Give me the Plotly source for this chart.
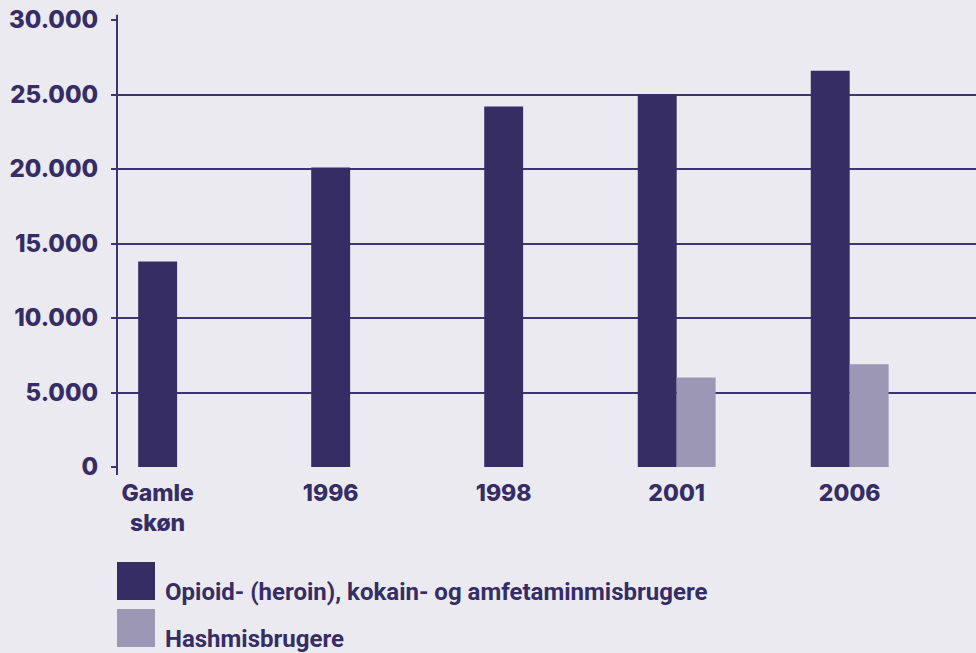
import plotly.graph_objects as go

categories = ["Gamle skøn", "1996", "1998", "2001", "2006"]
tick_labels = ["Gamle<br>skøn", "1996", "1998", "2001", "2006"]
opioid_values = [13800, 20100, 24200, 25000, 26600]
hash_values = [None, None, None, 6000, 6900]
series_names = ["Opioid- (heroin), kokain- og amfetaminmisbrugere", "Hashmisbrugere"]
y_ticks = [0, 5000, 10000, 15000, 20000, 25000, 30000]
y_tick_labels = ["0", "5.000", "10.000", "15.000", "20.000", "25.000", "30.000"]

BG = "#EBEAF1"
DARK = "#352D64"
LIGHT = "#9B97B4"
TEXT = "#352D64"
W = 0.225

dark_offsets = [-W / 2 if h is None else -W for h in hash_values]

fig = go.Figure()
fig.add_trace(go.Bar(x=categories, y=opioid_values, name=series_names[0],
                     marker=dict(color=DARK, line=dict(width=0)),
                     width=W, offset=dark_offsets))
fig.add_trace(go.Bar(x=categories, y=hash_values, name=series_names[1],
                     marker=dict(color=LIGHT, line=dict(width=0)),
                     width=W, offset=0))

fig.update_layout(
    width=976, height=653,
    paper_bgcolor=BG, plot_bgcolor=BG,
    margin=dict(l=117, r=0, t=20, b=186),
    barmode="overlay",
    showlegend=False,
    font=dict(family="Inter, Roboto, sans-serif", color=TEXT),
    xaxis=dict(
        type="category", range=[-0.235, 4.73],
        tickmode="array", tickvals=categories, ticktext=tick_labels,
        showgrid=False, zeroline=False, showline=False, ticks="",
        tickfont=dict(size=23, weight=800, color=TEXT, family="Inter, sans-serif"),
        ticklabelstandoff=10,
    ),
    yaxis=dict(
        range=[0, 30000], tickmode="array", tickvals=y_ticks, ticktext=y_tick_labels,
        showgrid=True, gridcolor="#3D3470", gridwidth=2,
        zeroline=False, showline=False,
        ticks="outside", ticklen=5, tickcolor="#3D3470", tickwidth=2,
        tickfont=dict(size=24, weight=800, color=TEXT, family="Inter, sans-serif"),
        ticklabelstandoff=8,
    ),
)

fig.add_shape(type="line", xref="paper", yref="paper", x0=0, x1=0, y0=-0.018, y1=1.012,
              line=dict(color="#3D3470", width=2))

legend_colors = [DARK, LIGHT]
for i, (nm, col) in enumerate(zip(series_names, legend_colors)):
    top = 562 + i * 47
    fig.add_shape(type="rect", xref="paper", yref="paper",
                  x0=0, x1=38 / 859,
                  y0=(467 - top - 38) / 447, y1=(467 - top) / 447,
                  fillcolor=col, line=dict(width=0))
    fig.add_annotation(xref="paper", yref="paper", x=46 / 859, y=(467 - top - 30) / 447,
                       text=nm, showarrow=False, xanchor="left", yanchor="middle",
                       font=dict(size=24, weight="bold", color=TEXT, family="Roboto, sans-serif"))

fig.write_html("out.html", config={"displayModeBar": False},
               post_script="document.body.style.margin='0';document.body.style.background='#EBEAF1';")
